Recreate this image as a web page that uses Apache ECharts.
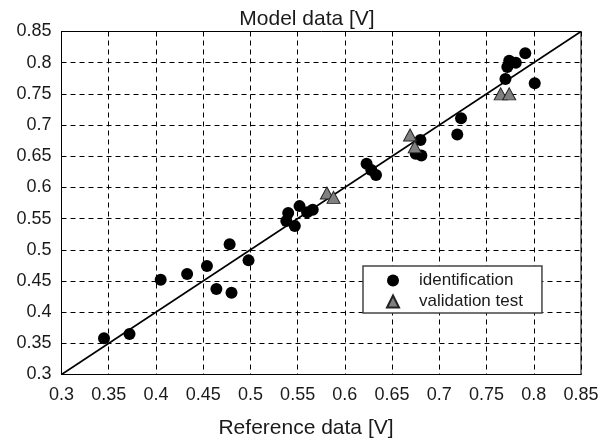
<!DOCTYPE html>
<html>
<head>
<meta charset="utf-8">
<script src="https://cdn.jsdelivr.net/npm/echarts@6/dist/echarts.min.js"></script>
<style>
  html, body { margin: 0; padding: 0; background: #fff; }
  #chart { width: 611px; height: 442px; }
</style>
</head>
<body>
<div id="chart"></div>
<script>
// Axis range (volts) shared by both axes
const axisMin = 0.3;
const axisMax = 0.85;
const axisStep = 0.05;

// Identification runs: reference voltage vs. model voltage
const identRef = [0.345, 0.372, 0.405, 0.433, 0.454, 0.464, 0.478, 0.480, 0.498,
                  0.538, 0.540, 0.547, 0.552, 0.560, 0.566,
                  0.623, 0.628, 0.633, 0.680, 0.675, 0.681, 0.719, 0.723,
                  0.770, 0.772, 0.774, 0.781, 0.791, 0.801];
const identModel = [0.358, 0.365, 0.452, 0.461, 0.474, 0.437, 0.509, 0.431, 0.483,
                    0.546, 0.559, 0.538, 0.570, 0.560, 0.564,
                    0.638, 0.628, 0.620, 0.676, 0.654, 0.651, 0.685, 0.711,
                    0.774, 0.793, 0.803, 0.800, 0.815, 0.767];

// Validation test runs
const validRef = [0.581, 0.588, 0.669, 0.674, 0.765, 0.774];
const validModel = [0.591, 0.584, 0.684, 0.665, 0.750, 0.750];

// Ideal agreement line y = x
const idealLine = [0.3, 0.85];

const seriesNames = ['identification', 'validation test'];

const zip = (a, b) => a.map((v, i) => [v, b[i]]);

const font = 'Liberation Sans, Arial, sans-serif';

const axisCommon = {
  type: 'value',
  min: axisMin,
  max: axisMax,
  interval: axisStep,
  axisLine: { show: true, lineStyle: { color: '#000', width: 1 } },
  axisTick: { show: false },
  splitLine: { show: true, lineStyle: { color: '#000', width: 1, type: [5, 4] } },
  axisLabel: { color: '#1a1a1a', fontSize: 18, fontFamily: font }
};

const chart = echarts.init(document.getElementById('chart'), null, { renderer: 'canvas' });

chart.setOption({
  animation: false,
  backgroundColor: '#fff',
  title: [
    { text: 'Model data [V]', left: 302, top: 4, textAlign: 'center',
      textStyle: { fontSize: 21, fontWeight: 'normal', color: '#1a1a1a', fontFamily: font } },
    { text: 'Reference data [V]', left: 301, top: 413, textAlign: 'center',
      textStyle: { fontSize: 21, fontWeight: 'normal', color: '#1a1a1a', fontFamily: font } }
  ],
  grid: {
    left: 61.5, right: 30, top: 31.5, bottom: 67.5,
    show: true, borderColor: '#000', borderWidth: 1, backgroundColor: 'transparent'
  },
  xAxis: Object.assign({}, axisCommon, {
    axisLabel: Object.assign({}, axisCommon.axisLabel, { margin: 12 })
  }),
  yAxis: Object.assign({}, axisCommon, {
    axisLabel: Object.assign({}, axisCommon.axisLabel, { margin: 10 })
  }),
  legend: {
    data: seriesNames,
    orient: 'vertical',
    left: 363,
    top: 266,
    padding: [6, 19, 3, 23],
    itemGap: 4,
    itemWidth: 12,
    itemHeight: 12,
    backgroundColor: '#fff',
    borderColor: '#444',
    borderWidth: 1.5,
    borderRadius: 0,
    textStyle: { fontSize: 17, color: '#1a1a1a', fontFamily: font, padding: [0, 0, 0, 15] }
  },
  series: [
    {
      type: 'line',
      data: [[idealLine[0], idealLine[0]], [idealLine[1], idealLine[1]]],
      symbol: 'none',
      lineStyle: { color: '#000', width: 1.6 },
      silent: true,
      z: 2
    },
    {
      name: seriesNames[0],
      type: 'scatter',
      data: zip(identRef, identModel),
      symbol: 'circle',
      symbolSize: 12,
      itemStyle: { color: '#000', opacity: 1 },
      z: 3
    },
    {
      name: seriesNames[1],
      type: 'scatter',
      data: zip(validRef, validModel),
      symbol: 'triangle',
      symbolSize: [13, 12],
      itemStyle: { color: '#808080', borderColor: '#222', borderWidth: 1, opacity: 1 },
      z: 4
    }
  ]
});
</script>
</body>
</html>
